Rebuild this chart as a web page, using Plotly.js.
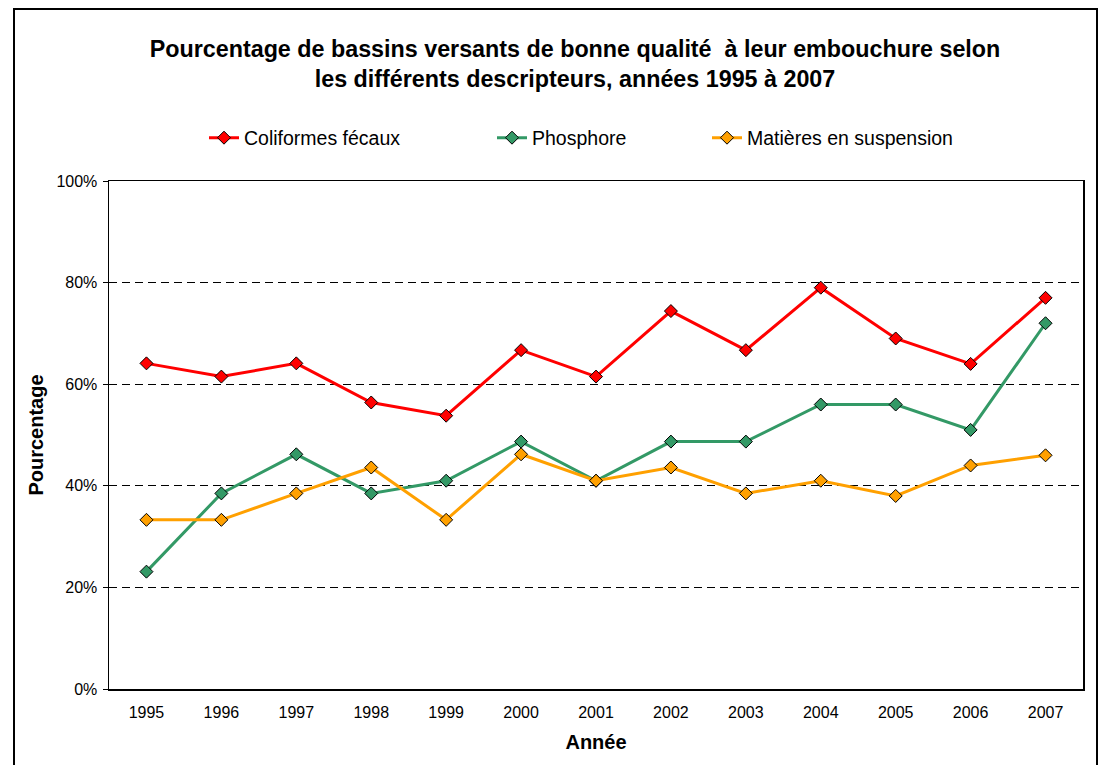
<!DOCTYPE html>
<html>
<head>
<meta charset="utf-8">
<script src="https://cdn.plot.ly/plotly-3.0.1.min.js"></script>
<style>
html,body{margin:0;padding:0;background:#fff;}
#chart{width:1099px;height:765px;}
</style>
</head>
<body>
<div id="chart"></div>
<script>
const years = ['1995','1996','1997','1998','1999','2000','2001','2002','2003','2004','2005','2006','2007'];
const coliformes = [64.1, 61.5, 64.1, 56.4, 53.8, 66.7, 61.5, 74.4, 66.7, 79.0, 69.0, 64.0, 77.0];
const phosphore  = [23.1, 38.5, 46.2, 38.5, 41.0, 48.7, 41.0, 48.7, 48.7, 56.0, 56.0, 51.0, 72.0];
const matieres   = [33.3, 33.3, 38.5, 43.6, 33.3, 46.2, 41.0, 43.6, 38.5, 41.0, 38.0, 44.0, 46.0];
const seriesNames = ['Coliformes fécaux', 'Phosphore', 'Matières en suspension'];
const yTicks = [0, 20, 40, 60, 80, 100];

const colors = ['#FF0000', '#339966', '#FFA000'];
const legendWidths = [243, 170, 230];

const seriesData = [coliformes, phosphore, matieres];
const traces = seriesData.map((vals, i) => ({
  type: 'scatter',
  mode: 'lines+markers',
  x: years,
  y: vals,
  name: seriesNames[i],
  line: {color: colors[i], width: 3},
  marker: {symbol: 'diamond', size: 10, color: colors[i], line: {color: '#000', width: 1}},
  legendwidth: legendWidths[i]
}));

const L = 109, R = 1083, T = 181, B = 689, W = 1099, H = 765;
const pw = R - L, ph = B - T;

const layout = {
  width: W, height: H,
  margin: {l: L, r: W - R, t: T, b: H - B, pad: 0},
  paper_bgcolor: '#fff',
  plot_bgcolor: '#fff',
  font: {family: 'Liberation Sans, Arial, sans-serif', color: '#000', size: 16},
  title: {
    text: '<b>Pourcentage de bassins versants de bonne qualité  à leur embouchure selon<br>les différents descripteurs, années 1995 à 2007</b>',
    font: {size: 23.3, family: 'Liberation Sans, Arial, sans-serif', color: '#000'},
    xref: 'container', x: 575 / W, xanchor: 'center',
    yref: 'container', y: 1 - 57 / H, yanchor: 'top'
  },
  showlegend: true,
  legend: {
    orientation: 'h',
    x: (204 - L) / pw, xanchor: 'left',
    y: (B - 138) / ph, yanchor: 'middle',
    font: {size: 19.5},
    itemwidth: 30,
    bgcolor: 'rgba(0,0,0,0)'
  },
  xaxis: {
    type: 'category',
    categoryorder: 'array',
    categoryarray: years,
    range: [-0.5, years.length - 0.5],
    showline: true, linecolor: '#000', linewidth: 1.5, mirror: true,
    ticks: '', showgrid: false, zeroline: false,
    tickfont: {size: 16},
    ticklabelstandoff: 8,
    title: {text: '<b>Année</b>', font: {size: 20}, standoff: 15},
    automargin: false
  },
  yaxis: {
    range: [0, 100],
    tickvals: yTicks,
    ticktext: yTicks.map(v => v + '%'),
    showline: true, linecolor: '#000', linewidth: 1.5, mirror: true,
    ticks: 'outside', ticklen: 5, tickcolor: '#000', tickwidth: 1,
    showgrid: true, gridcolor: '#000', gridwidth: 1, griddash: '8px,5px',
    zeroline: false,
    tickfont: {size: 16},
    ticklabelstandoff: 2,
    title: {text: '<b>Pourcentage</b>', font: {size: 20}, standoff: 7},
    automargin: false
  },
  shapes: [{
    type: 'rect', xref: 'paper', yref: 'paper',
    x0: (14 - L) / pw, x1: (1097 - L) / pw,
    y0: (B - 800) / ph, y1: (B - 9) / ph,
    line: {color: '#000', width: 2}, fillcolor: 'rgba(0,0,0,0)',
    layer: 'below'
  }]
};

Plotly.newPlot('chart', traces, layout, {displayModeBar: false, staticPlot: true});
</script>
</body>
</html>
